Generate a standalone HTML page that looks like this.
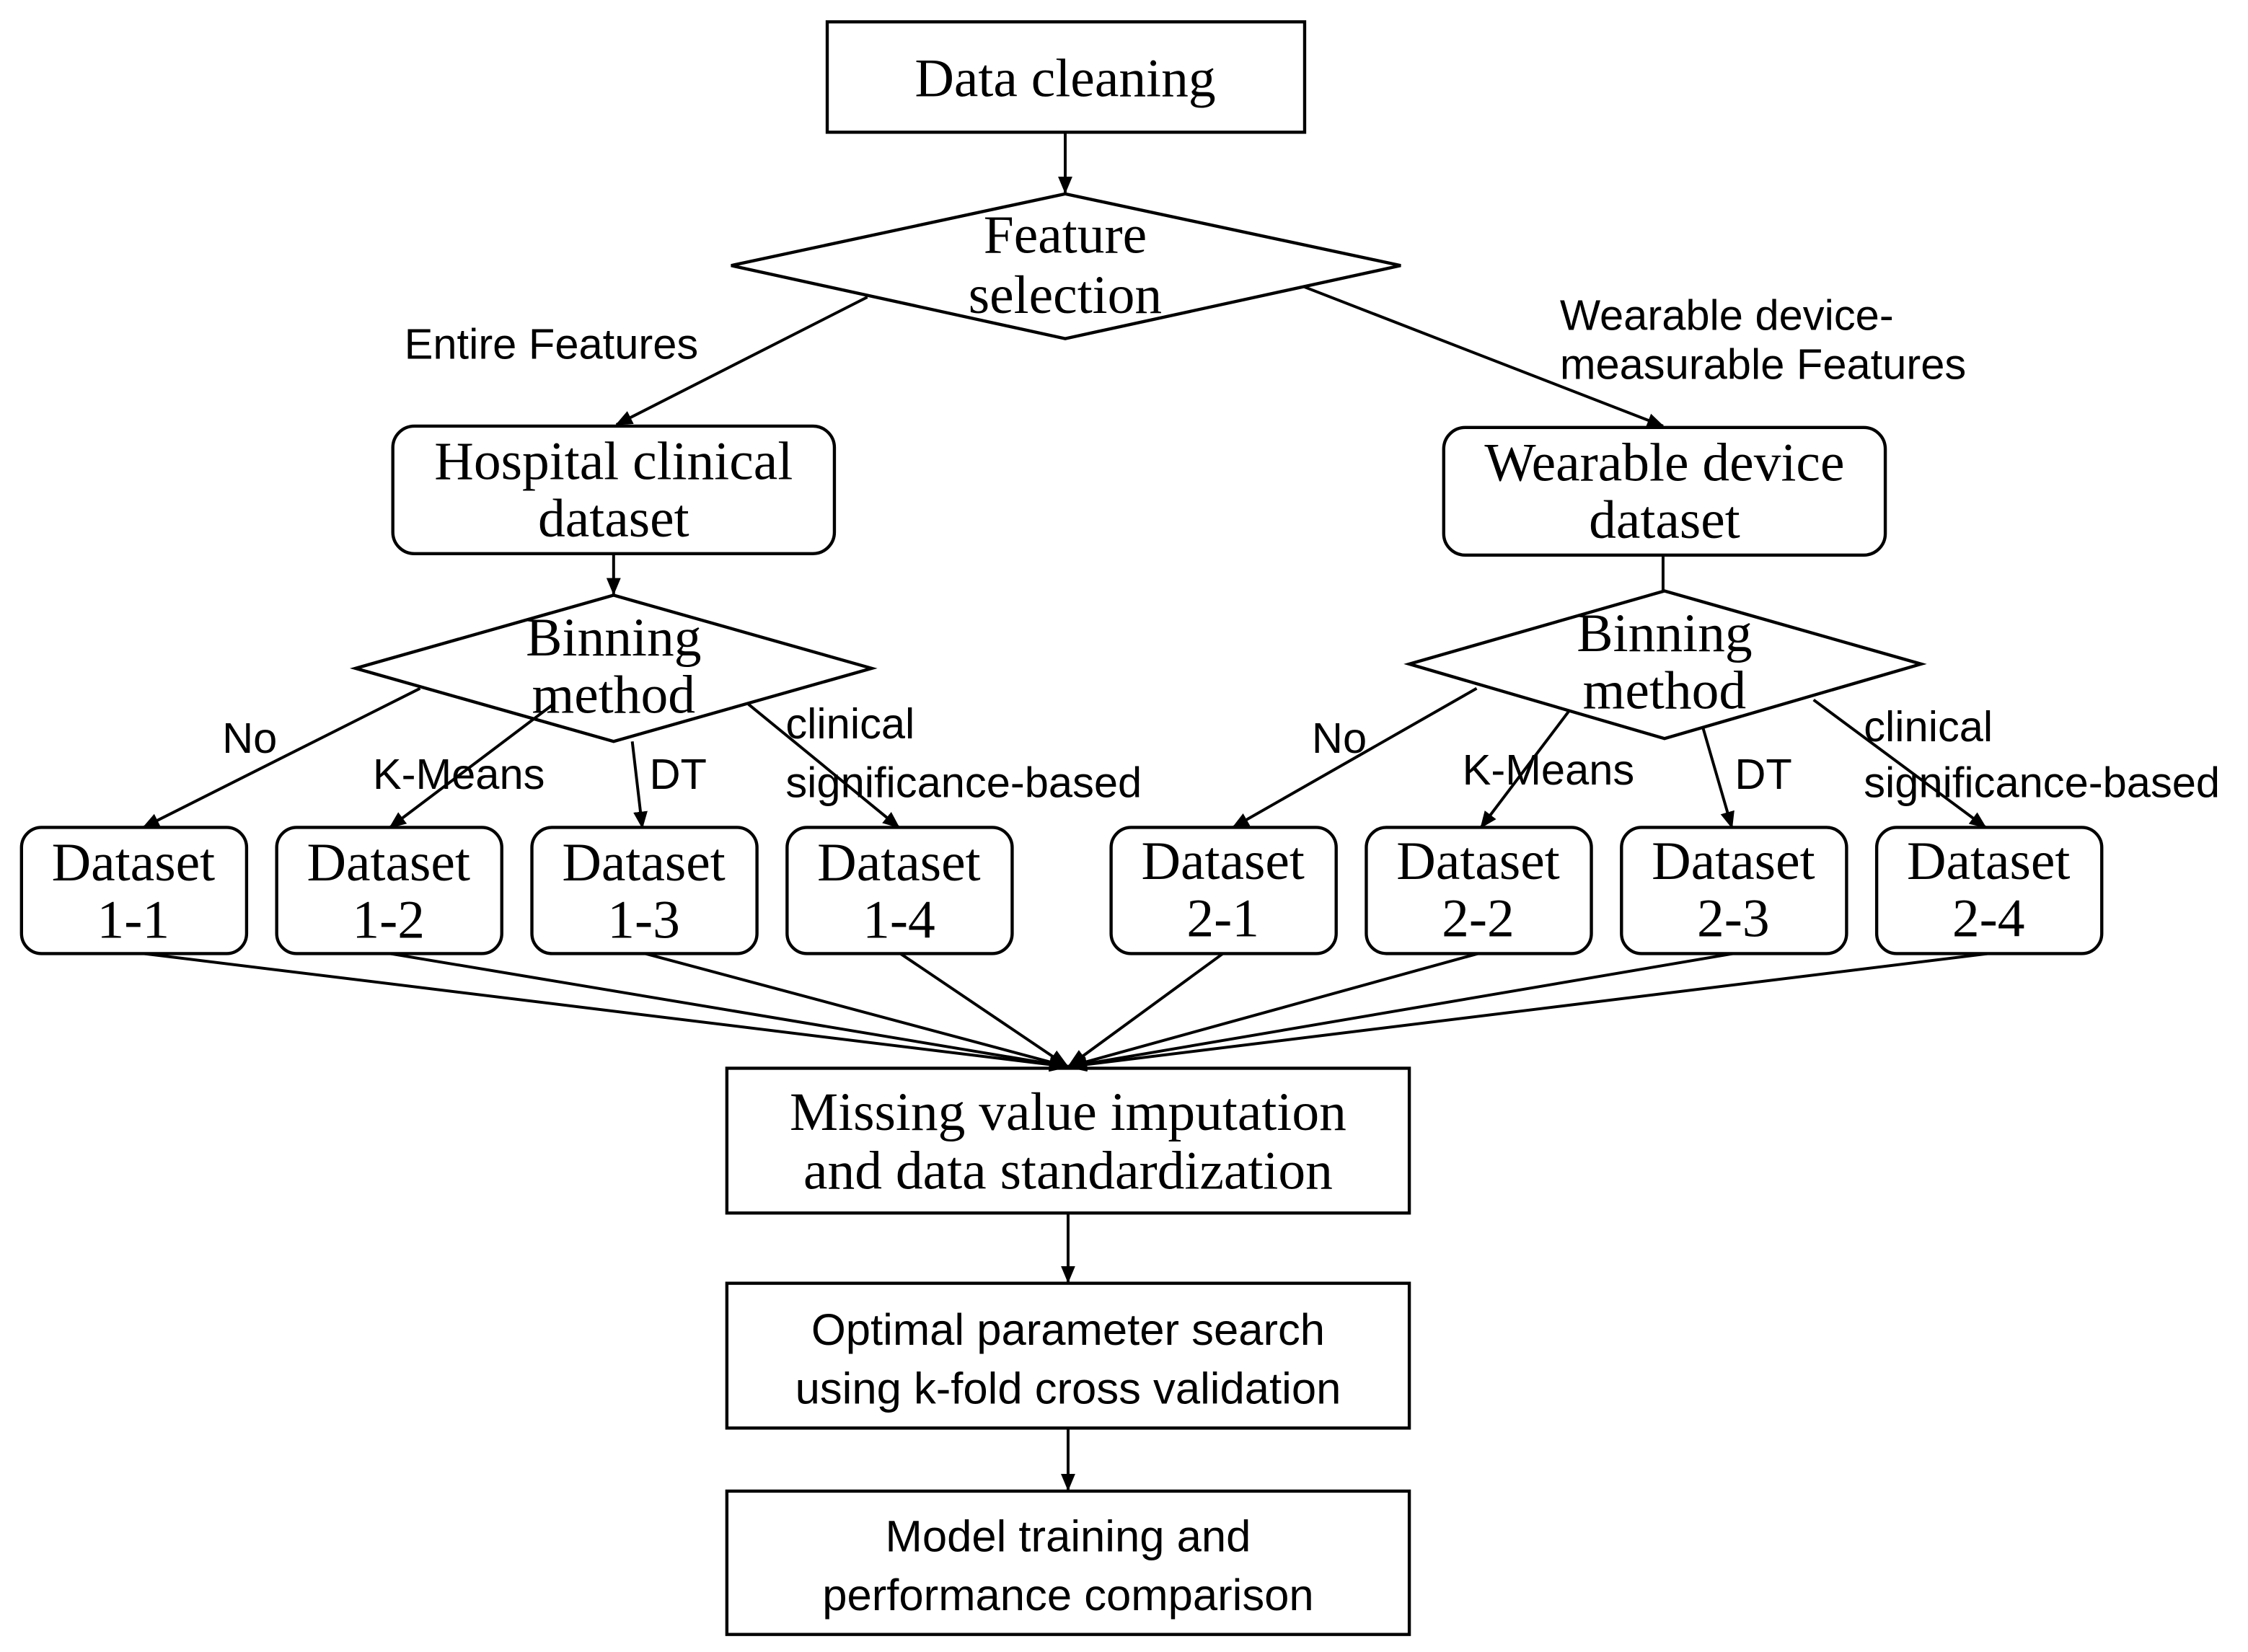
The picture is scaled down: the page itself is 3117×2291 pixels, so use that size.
<!DOCTYPE html>
<html><head><meta charset="utf-8"><style>
html,body{margin:0;padding:0;background:#fff;}
svg{display:block;}
.s{font-family:"Liberation Serif",serif;font-size:38px;}
.n{font-family:"Liberation Sans",sans-serif;font-size:30px;}
.m{font-family:"Liberation Sans",sans-serif;font-size:31px;}
</style></head><body>
<svg width="3117" height="2291" viewBox="0 0 1568 1152" xmlns="http://www.w3.org/2000/svg">
<defs><marker id="a" markerWidth="12" markerHeight="12" refX="11" refY="6" orient="auto" markerUnits="userSpaceOnUse"><path d="M0,1 L12,6 L0,11 z" fill="#000"/></marker>
<marker id="b" markerWidth="14" markerHeight="12" refX="13" refY="6" orient="auto" markerUnits="userSpaceOnUse"><path d="M0,1 L14,6 L0,11 z" fill="#000"/></marker></defs>
<g fill="none" stroke="#000" stroke-width="2.2">
<rect x="577" y="15" width="333" height="77"/>
<polygon points="510,185 743,135 977,185 743,236"/>
<rect x="274" y="297" width="308" height="89" rx="15"/>
<rect x="1007" y="298" width="308" height="89" rx="15"/>
<polygon points="248,466 428,415 608,466 428,517"/>
<polygon points="983,463 1161,412 1340,463 1161,515"/>
<rect x="15" y="577" width="157" height="88" rx="14"/>
<rect x="193" y="577" width="157" height="88" rx="14"/>
<rect x="371" y="577" width="157" height="88" rx="14"/>
<rect x="549" y="577" width="157" height="88" rx="14"/>
<rect x="775" y="577" width="157" height="88" rx="14"/>
<rect x="953" y="577" width="157" height="88" rx="14"/>
<rect x="1131" y="577" width="157" height="88" rx="14"/>
<rect x="1309" y="577" width="157" height="88" rx="14"/>
<rect x="507" y="745" width="476" height="101"/>
<rect x="507" y="895" width="476" height="101"/>
<rect x="507" y="1040" width="476" height="100"/>
</g>
<g stroke="#000" stroke-width="2" marker-end="url(#a)">
<line x1="743" y1="92" x2="743" y2="134"/>
<line x1="605" y1="207" x2="430" y2="296"/>
<line x1="910" y1="200" x2="1160" y2="297"/>
<line x1="428" y1="386" x2="428" y2="414"/>
<line x1="293" y1="480" x2="100" y2="577"/>
<line x1="386" y1="491" x2="272" y2="577"/>
<line x1="441" y1="517" x2="448" y2="577"/>
<line x1="522" y1="491" x2="627" y2="577"/>
<line x1="1030" y1="480" x2="860" y2="577"/>
<line x1="1095" y1="495" x2="1033" y2="577"/>
<line x1="1188" y1="508" x2="1208" y2="577"/>
<line x1="1265" y1="488" x2="1385" y2="577"/>
<line x1="745" y1="846" x2="745" y2="894"/>
<line x1="745" y1="996" x2="745" y2="1039"/>
</g>
<line x1="1160" y1="387" x2="1160" y2="412" stroke="#000" stroke-width="2"/>
<g stroke="#000" stroke-width="2" marker-end="url(#b)">
<line x1="100" y1="665" x2="745" y2="744"/>
<line x1="272" y1="665" x2="745" y2="744"/>
<line x1="450" y1="665" x2="745" y2="744"/>
<line x1="628" y1="665" x2="745" y2="744"/>
<line x1="853" y1="665" x2="745" y2="744"/>
<line x1="1031" y1="665" x2="745" y2="744"/>
<line x1="1209" y1="665" x2="745" y2="744"/>
<line x1="1387" y1="665" x2="745" y2="744"/>
</g>
<g class="s" text-anchor="middle">
<text x="743" y="67">Data cleaning</text>
<text x="743" y="176">Feature</text>
<text x="743" y="218">selection</text>
<text x="428" y="334">Hospital clinical</text>
<text x="428" y="374">dataset</text>
<text x="1161" y="335">Wearable device</text>
<text x="1161" y="375">dataset</text>
<text x="428" y="457">Binning</text>
<text x="428" y="497">method</text>
<text x="1161" y="454">Binning</text>
<text x="1161" y="494">method</text>
<text x="93" y="614">Dataset</text><text x="93" y="654">1-1</text>
<text x="271" y="614">Dataset</text><text x="271" y="654">1-2</text>
<text x="449" y="614">Dataset</text><text x="449" y="654">1-3</text>
<text x="627" y="614">Dataset</text><text x="627" y="654">1-4</text>
<text x="853" y="613">Dataset</text><text x="853" y="653">2-1</text>
<text x="1031" y="613">Dataset</text><text x="1031" y="653">2-2</text>
<text x="1209" y="613">Dataset</text><text x="1209" y="653">2-3</text>
<text x="1387" y="613">Dataset</text><text x="1387" y="653">2-4</text>
<text x="745" y="788">Missing value imputation</text>
<text x="745" y="829">and data standardization</text>
</g>
<g class="n">
<text x="282" y="250">Entire Features</text>
<text x="1088" y="230">Wearable device-</text>
<text x="1088" y="264">measurable Features</text>
<text x="155" y="525">No</text>
<text x="260" y="550">K-Means</text>
<text x="453" y="550">DT</text>
<text x="548" y="515">clinical</text>
<text x="548" y="556">significance-based</text>
<text x="915" y="525">No</text>
<text x="1020" y="547">K-Means</text>
<text x="1210" y="550">DT</text>
<text x="1300" y="517">clinical</text>
<text x="1300" y="556">significance-based</text>
</g>
<g class="m" text-anchor="middle">
<text x="745" y="938">Optimal parameter search</text>
<text x="745" y="979">using k-fold cross validation</text>
<text x="745" y="1082">Model training and</text>
<text x="745" y="1123">performance comparison</text>
</g>
</svg>
</body></html>
